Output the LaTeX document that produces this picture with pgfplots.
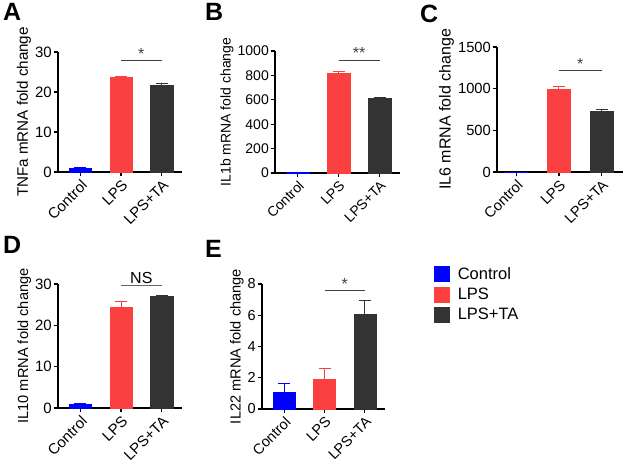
\documentclass[border=0pt]{standalone}
\usepackage{fontspec}
\setmainfont{Liberation Sans}
\usepackage{pgfplots}
\pgfplotsset{compat=1.18}

\definecolor{cctrl}{RGB}{0,0,255}
\definecolor{clps}{RGB}{250,64,64}
\definecolor{clpsta}{RGB}{51,51,51}

\newcommand\fs[1]{\fontsize{#1}{#1}\selectfont}
\newcommand\letfont{\fontsize{25}{26}\selectfont\bfseries}

\tikzset{sig/.style={line width=0.8pt,black!75}}

\pgfplotsset{
  panel/.style 2 args={
    scale only axis,
    axis x line*=bottom, axis y line*=left,
    axis line style={line width=1.2pt,-},
    xmin=-0.55, xmax=2.5, ymin=0,
    xtick={0,1,2}, xticklabels={Control,LPS,LPS+TA},
    x tick label style={rotate=45,anchor=north east,font=\fs{#1},inner sep=1.5pt},
    y tick label style={font=\fs{#1},inner sep=1.5pt},
    ylabel style={font=\fs{#2}},
    ylabel shift=-1pt,
    tick align=outside, major tick length=4.5pt,
    tick style={line width=1.2pt,black},
    scaled y ticks=false,
    /pgf/number format/1000 sep={},
    /pgf/number format/assume math mode=true,
    clip=false,
  },
  bar/.style={ybar,bar width=0.55,bar shift=0pt,fill=#1,draw=#1,
    error bars/.cd,y dir=plus,y explicit,
    error bar style={line width=1pt,#1},
    error mark options={rotate=90,mark size=6pt,line width=1pt,#1}},
}

\begin{document}
\begin{tikzpicture}[x=1pt,y=1pt]
\path[use as bounding box] (0,0) rectangle (625,461);

% A
\begin{axis}[panel={15}{15.2},at={(58pt,289pt)},anchor=south west,width=124pt,height=120pt,
  ymax=30,ytick={0,10,20,30},ylabel={TNFa mRNA fold change}]
\addplot[bar=cctrl] coordinates {(0,1.0) +- (0,0.1)};
\addplot[bar=clps] coordinates {(1,23.8) +- (0,0.15)};
\addplot[bar=clpsta] coordinates {(2,21.7) +- (0,0.35)};
\draw[sig] (axis cs:1,27.8) -- (axis cs:2,27.8) node[midway,above,font=\fs{16},inner sep=1pt] {*};
\end{axis}

% B
\begin{axis}[panel={14}{14},at={(275pt,288pt)},anchor=south west,width=125pt,height=122pt,
  ymax=1000,ytick={0,200,400,600,800,1000},ylabel={IL1b mRNA fold change}]
\addplot[bar=cctrl] coordinates {(0,5) +- (0,1)};
\addplot[bar=clps] coordinates {(1,820) +- (0,8)};
\addplot[bar=clpsta] coordinates {(2,610) +- (0,10)};
\draw[sig] (axis cs:1,926) -- (axis cs:2,926) node[midway,above,font=\fs{16},inner sep=1pt] {**};
\end{axis}

% C
\begin{axis}[panel={14.7}{16},at={(497pt,289pt)},anchor=south west,width=126pt,height=125pt,
  xmin=-0.45,xmax=2.5,
  ymax=1500,ytick={0,500,1000,1500},ylabel={IL6 mRNA fold change}]
\addplot[ybar,bar width=0.55,bar shift=0pt,fill=cctrl,draw=none] coordinates {(0,1)};
\addplot[bar=clps] coordinates {(1,990) +- (0,30)};
\addplot[bar=clpsta] coordinates {(2,725) +- (0,25)};
\draw[sig] (axis cs:1,1216) -- (axis cs:2,1216) node[midway,above,font=\fs{16},inner sep=1pt] {*};
\end{axis}

% D
\begin{axis}[panel={15}{14.6},at={(58pt,53pt)},anchor=south west,width=124pt,height=124pt,
  ymax=30,ytick={0,10,20,30},ylabel={IL10 mRNA fold change}]
\addplot[bar=cctrl] coordinates {(0,1.0) +- (0,0.1)};
\addplot[bar=clps] coordinates {(1,24.3) +- (0,1.5)};
\addplot[bar=clpsta] coordinates {(2,27.0) +- (0,0.1)};
\draw[sig,black!60] (axis cs:1,29.6) -- (axis cs:2,29.6) node[midway,above,font=\fs{16},inner sep=2pt,black] {NS};
\end{axis}

% E
\begin{axis}[panel={14.5}{14.6},at={(262pt,52pt)},anchor=south west,width=123pt,height=125pt,
  ymax=8,ytick={0,2,4,6,8},ylabel={IL22 mRNA fold change},
  legend style={draw=none,fill=none,at={(1.40,1.15)},anchor=north west,
    font=\fs{16.5},row sep=3pt,inner sep=0pt,
    /tikz/every odd column/.append style={column sep=6pt}},
  legend cell align=left,
  legend image code/.code={\fill[#1,/tikz/.cd] (0pt,-7.5pt) rectangle (15pt,7.5pt);}]
\addplot[bar=cctrl] coordinates {(0,1.1) +- (0,0.55)};
\addplot[bar=clps] coordinates {(1,1.9) +- (0,0.7)};
\addplot[bar=clpsta] coordinates {(2,6.05) +- (0,0.9)};
\draw[sig] (axis cs:1,7.57) -- (axis cs:2,7.57) node[midway,above,font=\fs{16},inner sep=1pt] {*};
\legend{Control,LPS,LPS+TA}
\end{axis}

\node[anchor=north west,inner sep=0pt,font=\letfont] at (3,458) {A};
\node[anchor=north west,inner sep=0pt,font=\letfont] at (205,458) {B};
\node[anchor=north west,inner sep=0pt,font=\letfont] at (420,456) {C};
\node[anchor=north west,inner sep=0pt,font=\letfont] at (3,225) {D};
\node[anchor=north west,inner sep=0pt,font=\letfont] at (205,221) {E};
\end{tikzpicture}
\end{document}
